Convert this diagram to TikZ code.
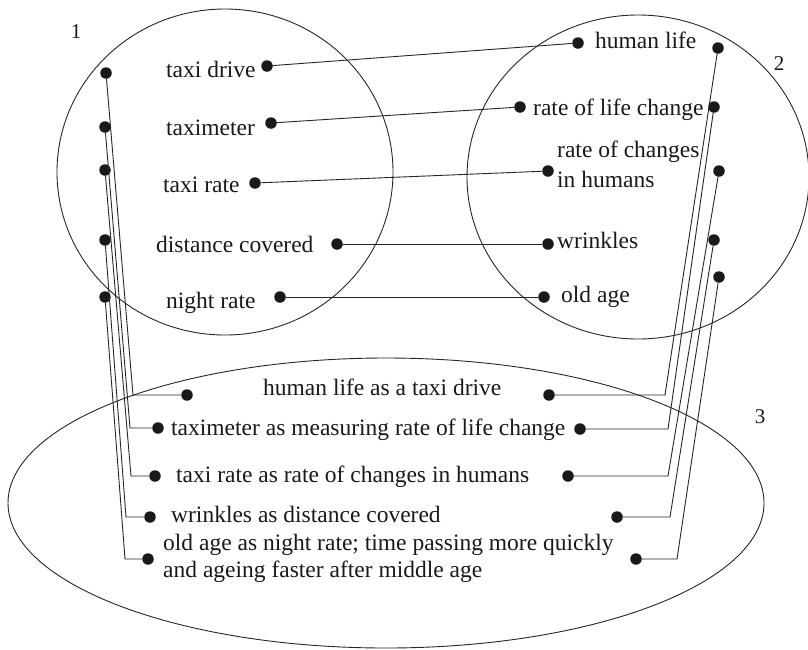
\documentclass[tikz,border=0pt]{standalone}
\usepackage{fontspec}
\setmainfont{Liberation Serif}
\begin{document}
\begin{tikzpicture}[x=1pt,y=-1pt,
  dot/.style={circle,fill=black!90,inner sep=0pt,minimum size=11.5pt},
  lbl/.style={anchor=base west,inner sep=0pt,font=\fontsize{23.5}{28}\selectfont,text=black!90},
  num/.style={anchor=base,inner sep=0pt,font=\fontsize{21}{24}\selectfont,text=black!90},
  ring/.style={line width=0.9pt,black!85},
  ln/.style={line width=0.9pt,black!85}]
\useasboundingbox (0,0) rectangle (808,649);

% the three domains
\draw[ring] (225,172) ellipse [x radius=168pt, y radius=163pt];
\draw[ring] (638,177) ellipse [x radius=171pt, y radius=162pt];
\draw[ring] (386,503) ellipse [x radius=378pt, y radius=145pt];

\node[num] (n1) at (76,38) {1};
\node[num] (n2) at (779,70) {2};
\node[num] (n3) at (760,423) {3};

% domain 1: taxi
\node[lbl] (t1) at (166,77) {taxi drive};
\node[lbl] (t2) at (166,135) {taximeter};
\node[lbl] (t3) at (163,192) {taxi rate};
\node[lbl] (t4) at (156,252) {distance covered};
\node[lbl] (t5) at (166,308) {night rate};

% domain 2: life
\node[lbl] (h1) at (595,48) {human life};
\node[lbl] (h2) at (533,115) {rate of life change};
\node[lbl] (h3a) at (557,157) {rate of changes};
\node[lbl] (h3b) at (557,187) {in humans};
\node[lbl] (h4) at (557,248) {wrinkles};
\node[lbl] (h5) at (561,302) {old age};

% domain 3: blend
\node[lbl] (b1) at (263,395) {human life as a taxi drive};
\node[lbl] (b2) at (171,435) {taximeter as measuring rate of life change};
\node[lbl] (b3) at (176,482) {taxi rate as rate of changes in humans};
\node[lbl] (b4) at (171,522) {wrinkles as distance covered};
\node[lbl] (b5a) at (163,550) {old age as night rate; time passing more quickly};
\node[lbl] (b5b) at (163,577) {and ageing faster after middle age};

% dots of domain 1
\node[dot] (ta) at (267,66) {};
\node[dot] (tb) at (271,123) {};
\node[dot] (tc) at (255,183) {};
\node[dot] (td) at (337,244) {};
\node[dot] (te) at (280,297) {};
\node[dot] (la) at (106,73) {};
\node[dot] (lb) at (105,127) {};
\node[dot] (lc) at (105,170) {};
\node[dot] (ld) at (105,240) {};
\node[dot] (le) at (105,297) {};

% dots of domain 2
\node[dot] (ha) at (578,43) {};
\node[dot] (hb) at (520,107) {};
\node[dot] (hc) at (548,171) {};
\node[dot] (hd) at (548,244) {};
\node[dot] (he) at (544,297) {};
\node[dot] (ra) at (718,48) {};
\node[dot] (rb) at (714,107) {};
\node[dot] (rc) at (719,171) {};
\node[dot] (rd) at (714,240) {};
\node[dot] (re) at (719,277) {};

% dots of domain 3
\node[dot] (ba) at (187,395) {};
\node[dot] (bb) at (158,428) {};
\node[dot] (bc) at (155,476) {};
\node[dot] (bd) at (150,517) {};
\node[dot] (be) at (148,559) {};
\node[dot] (ca) at (549,395) {};
\node[dot] (cb) at (580,429) {};
\node[dot] (cc) at (568,476) {};
\node[dot] (cd) at (617,517) {};
\node[dot] (ce) at (636,559) {};

% elbows of the projection lines
\coordinate (ea) at (133,395);
\coordinate (eb) at (130,428);
\coordinate (ec) at (131,476);
\coordinate (ed) at (126,517);
\coordinate (ee) at (125,559);
\coordinate (fa) at (665,395);
\coordinate (fb) at (668,429);
\coordinate (fc) at (668,476);
\coordinate (fd) at (670,517);
\coordinate (fe) at (677,559);

% cross-space mappings
\draw[ln] (ta) -- (ha);
\draw[ln] (tb) -- (hb);
\draw[ln] (tc) -- (hc);
\draw[ln] (td) -- (hd);
\draw[ln] (te) -- (he);

% projections into the blend
\draw[ln] (la) -- (ea) -- (ba);
\draw[ln] (lb) -- (eb) -- (bb);
\draw[ln] (lc) -- (ec) -- (bc);
\draw[ln] (ld) -- (ed) -- (bd);
\draw[ln] (le) -- (ee) -- (be);
\draw[ln] (ra) -- (fa) -- (ca);
\draw[ln] (rb) -- (fb) -- (cb);
\draw[ln] (rc) -- (fc) -- (cc);
\draw[ln] (rd) -- (fd) -- (cd);
\draw[ln] (re) -- (fe) -- (ce);
\end{tikzpicture}
\end{document}
